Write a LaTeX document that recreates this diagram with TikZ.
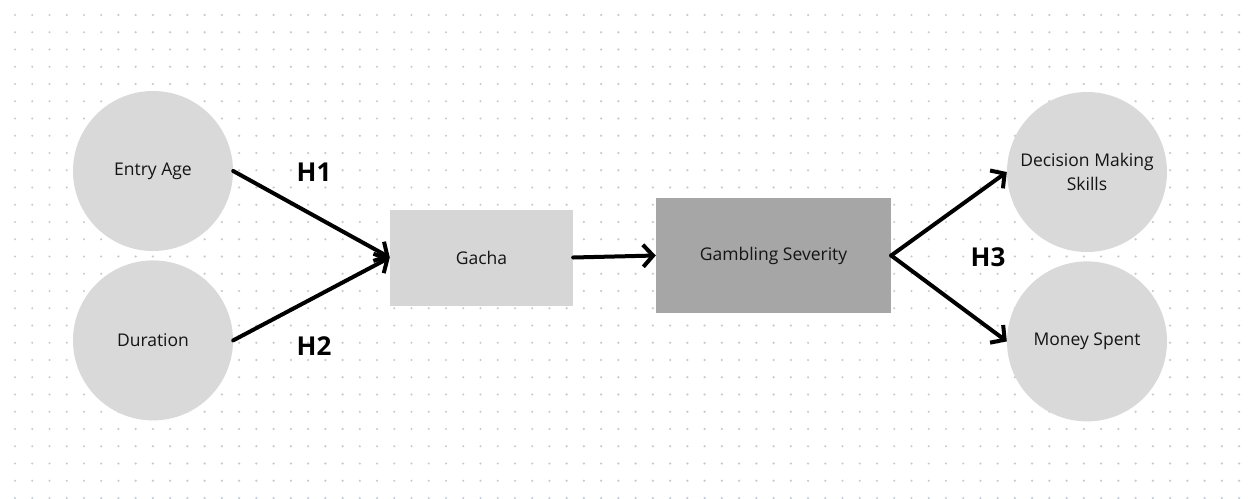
\documentclass[tikz,border=0pt]{standalone}
\usepackage{fontspec}
\setmainfont{Open Sans}
\usetikzlibrary{positioning,arrows.meta}
\definecolor{bubblegray}{HTML}{D9D9D9}
\definecolor{boxgray}{HTML}{D6D6D6}
\definecolor{darkbox}{HTML}{A6A6A6}
\definecolor{griddot}{HTML}{C5CAD6}
\definecolor{labeltext}{HTML}{141414}

\begin{document}
\begin{tikzpicture}[x=1pt, y=-1pt,
    varnode/.style={circle, fill=bubblegray, minimum size=160pt, inner sep=0pt, align=center, text=labeltext, font=\fontsize{17.5}{23.5}\selectfont},
    gachanode/.style={rectangle, fill=boxgray, minimum width=183pt, minimum height=96pt, text=labeltext, font=\fontsize{17.5}{23.5}\selectfont},
    severitynode/.style={rectangle, fill=darkbox, minimum width=235pt, minimum height=115pt, text=labeltext, font=\fontsize{17.5}{23.5}\selectfont},
    hyplabel/.style={font=\fontsize{26}{30}\selectfont\bfseries},
    linkarrow/.style={-{Straight Barb[length=10pt, width=22pt]}, line width=4pt, line join=round, line cap=round}
]
\fill[white] (0,0) rectangle (1249,498);
\useasboundingbox (0,0) rectangle (1249,498);
% dotted canvas
\foreach \i in {0,...,71}
  \foreach \j in {0,...,28}
    \fill[griddot] (15+\i*17.24, 15+\j*17.25) circle (1.2pt);

\node[varnode](entry) at (153,171){Entry Age};
\node[varnode](duration)[below=9pt of entry]{Duration};
\node[gachanode](gacha) at (481.5,257.5){Gacha};
\node[severitynode](severity) at (773.5,255.5){Gambling Severity};
\node[varnode](decision) at (1087,172){Decision Making\\Skills};
\node[varnode](money)[below=9pt of decision]{Money Spent};

\node[hyplabel](h1) at (314,172){H1};
\node[hyplabel](h2) at (314,346){H2};
\node[hyplabel](h3) at (988,257){H3};

\draw[linkarrow] (entry.east) -- (gacha.west);
\draw[linkarrow] (duration.east) -- (gacha.west);
\draw[linkarrow] (gacha.east) -- (severity.west);
\draw[linkarrow] (severity.east) -- (decision.west);
\draw[linkarrow] (severity.east) -- (money.west);
\end{tikzpicture}
\end{document}
